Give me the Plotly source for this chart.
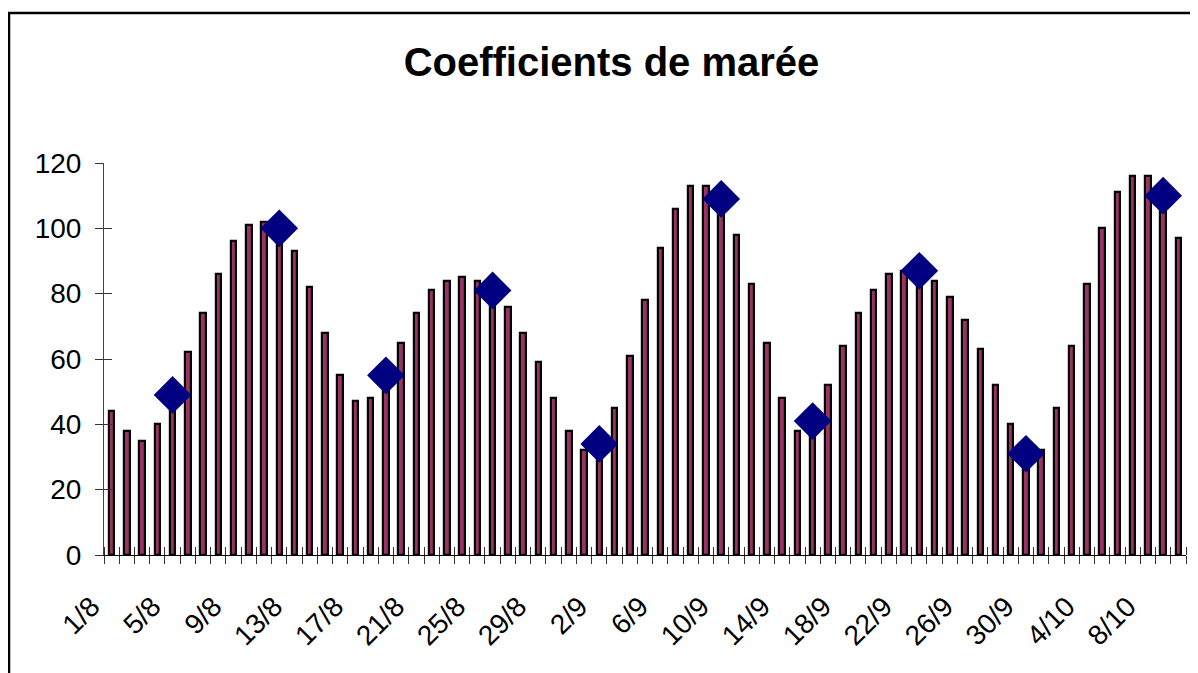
import plotly.graph_objects as go

# ---- data ----
dates = [
    "1/8", "2/8", "3/8", "4/8", "5/8", "6/8", "7/8", "8/8", "9/8", "10/8",
    "11/8", "12/8", "13/8", "14/8", "15/8", "16/8", "17/8", "18/8", "19/8", "20/8",
    "21/8", "22/8", "23/8", "24/8", "25/8", "26/8", "27/8", "28/8", "29/8", "30/8",
    "31/8", "1/9", "2/9", "3/9", "4/9", "5/9", "6/9", "7/9", "8/9", "9/9",
    "10/9", "11/9", "12/9", "13/9", "14/9", "15/9", "16/9", "17/9", "18/9", "19/9",
    "20/9", "21/9", "22/9", "23/9", "24/9", "25/9", "26/9", "27/9", "28/9", "29/9",
    "30/9", "1/10", "2/10", "3/10", "4/10", "5/10", "6/10", "7/10", "8/10", "9/10",
    "10/10",
]
coefficients = [
    44, 38, 35, 40, 49, 62, 74, 86, 96, 101,
    102, 100, 93, 82, 68, 55, 47, 48, 55, 65,
    74, 81, 84, 85, 84, 81, 76, 68, 59, 48,
    38, 32, 34, 45, 61, 78, 94, 106, 113, 113,
    110, 98, 83, 65, 48, 38, 41, 52, 64, 74,
    81, 86, 87, 87, 84, 79, 72, 63, 52, 40,
    31, 32, 45, 64, 83, 100, 111, 116, 116, 110,
    97,
]
# days marked with a diamond (moon phases)
phase_dates = ["5/8", "12/8", "19/8", "26/8", "2/9", "10/9", "16/9", "23/9", "30/9", "9/10"]
phase_values = [49, 100, 55, 81, 34, 109, 41, 87, 31, 110]
label_dates = ["1/8", "5/8", "9/8", "13/8", "17/8", "21/8", "25/8", "29/8", "2/9",
               "6/9", "10/9", "14/9", "18/9", "22/9", "26/9", "30/9", "4/10", "8/10"]
y_ticks = [0, 20, 40, 60, 80, 100, 120]

# ---- figure ----
idx = {d: i for i, d in enumerate(dates)}
xpos = [idx[d] for d in dates]
OFF = 8                       # page body margin of the browser
W, H = 1198 - OFF, 673 - OFF
ml, mt = 104 - OFF, 163 - OFF
mr = 1198 - 1186
pw, ph = 1186 - 104, 555 - 163
mb = H - mt - ph
FONT = "Liberation Sans, Arial, Helvetica, sans-serif"
TICKC = "#333333"

fig = go.Figure()
fig.add_trace(go.Bar(
    x=xpos, y=coefficients, width=0.36,
    marker=dict(color="#993366", line=dict(color="#000000", width=2.2)),
    showlegend=False, hoverinfo="skip",
))
fig.add_trace(go.Scatter(
    x=[idx[d] for d in phase_dates], y=phase_values, mode="markers",
    marker=dict(symbol="diamond", size=29, color="#000080", line=dict(width=0)),
    showlegend=False, hoverinfo="skip",
))
# empty trace for the overlay axes (cross ticks)
fig.add_trace(go.Scatter(x=[], y=[], xaxis="x2", yaxis="y2",
                         showlegend=False, hoverinfo="skip"))

n = len(dates)
bounds = [i - 0.5 for i in range(n + 1)]
xr = [-0.5, n - 0.5]

fig.update_layout(
    width=W, height=H,
    margin=dict(l=ml, r=mr, t=mt, b=mb),
    paper_bgcolor="white", plot_bgcolor="white",
    font=dict(family=FONT, color="black"),
    title=dict(text="<b>Coefficients de marée</b>", x=(611.5 - OFF) / W, xref="container",
               xanchor="center", y=1 - (62 - OFF) / H, yref="container", yanchor="middle",
               font=dict(size=40, family=FONT, color="black")),
    bargap=0,
    xaxis=dict(
        range=xr, showgrid=False, zeroline=False,
        showline=True, linecolor="black", linewidth=1,
        tickmode="array", tickvals=[idx[d] for d in label_dates], ticktext=label_dates,
        ticks="", tickangle=-45, tickfont=dict(size=28, family=FONT, color="black"),
        ticklabelshift=-20, ticklabelstandoff=23,
        minor=dict(tickmode="array", tickvals=bounds, ticks="outside",
                   ticklen=8, tickcolor=TICKC, tickwidth=1),
    ),
    xaxis2=dict(
        range=xr, overlaying="x", anchor="y", showgrid=False, zeroline=False,
        showline=False, showticklabels=False, ticks="",
        minor=dict(tickmode="array", tickvals=bounds, ticks="inside",
                   ticklen=8, tickcolor=TICKC, tickwidth=1),
    ),
    yaxis=dict(
        range=[0, 120], showgrid=False, zeroline=False,
        showline=True, linecolor="#444444", linewidth=1,
        tickmode="array", tickvals=y_ticks, ticks="outside", ticklen=8,
        tickcolor=TICKC, tickfont=dict(size=28, family=FONT, color="black"),
        ticklabelstandoff=8,
    ),
    yaxis2=dict(
        range=[0, 120], overlaying="y", anchor="x", showgrid=False, zeroline=False,
        showline=False, showticklabels=False,
        tickmode="array", tickvals=y_ticks, ticks="inside", ticklen=8, tickcolor=TICKC,
    ),
)

# chart-area border (extends past the right and bottom edges as in the picture)
px0, py0 = 104, 555           # page position of the plot-area origin
fig.add_shape(type="rect", xref="paper", yref="paper",
              x0=(9 - px0) / pw, x1=(1198 + 10 - px0) / pw,
              y0=(py0 - (673 + 10)) / ph, y1=(py0 - 13) / ph,
              line=dict(color="black", width=2.5), fillcolor="rgba(0,0,0,0)", layer="above")

fig.write_html("out.html")
